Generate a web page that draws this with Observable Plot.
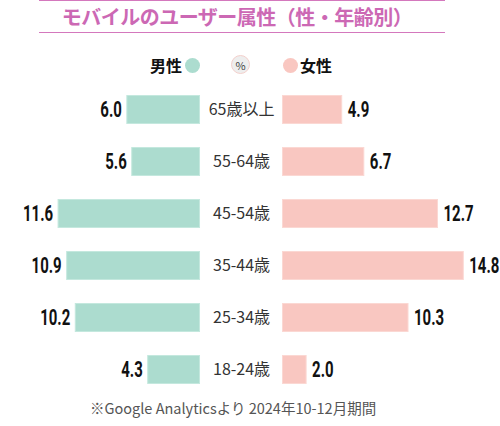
<!DOCTYPE html>
<html><head><meta charset="utf-8">
<script src="https://cdn.jsdelivr.net/npm/d3@7"></script>
<script src="https://cdn.jsdelivr.net/npm/@observablehq/plot@0.6"></script>
<style>
html,body{margin:0;padding:0;background:#fff;}
body{width:500px;height:426px;position:relative;overflow:hidden;font-family:"Noto Sans CJK JP","Noto Sans",sans-serif;}
#title{position:absolute;left:39px;top:0;width:396px;padding-right:10px;height:31px;border-top:1.5px solid #d478bd;border-bottom:1.5px solid #d478bd;text-align:center;line-height:31px;font-size:20px;font-weight:bold;color:#cc68b4;letter-spacing:-0.5px;}
.lg{position:absolute;top:55px;font-size:16px;font-weight:bold;color:#111;line-height:20px;}
.dot{position:absolute;border-radius:50%;}
#chart{position:absolute;left:0;top:82px;}
#cap{position:absolute;left:90px;top:398px;font-size:14.5px;color:#555;line-height:20px;white-space:nowrap;}
</style></head>
<body>
<div id="title">モバイルのユーザー属性（性・年齢別）</div>
<div class="lg" style="left:150px;">男性</div>
<div class="dot" style="left:184.5px;top:57.5px;width:15px;height:15px;background:#acdccf;"></div>
<div class="dot" style="left:231px;top:55px;width:19px;height:19px;background:#eeeeee;border:0.8px solid #f3d0cc;box-sizing:border-box;font-size:11px;line-height:18px;text-align:center;color:#444;">%</div>
<div class="dot" style="left:283px;top:57.5px;width:15px;height:15px;background:#f9c7c1;"></div>
<div class="lg" style="left:300px;">女性</div>
<div id="chart"></div>
<div id="cap">※Google Analyticsより 2024年10-12月期間</div>
<script>
const ages = ["65歳以上","55-64歳","45-54歳","35-44歳","25-34歳","18-24歳"];
const male = [6.0, 5.6, 11.6, 10.9, 10.2, 4.3];
const female = [4.9, 6.7, 12.7, 14.8, 10.3, 2.0];

const GAP = 3.34;
const rows = ages.map((a, i) => ({age: a, male: male[i], female: female[i]}));
const numFont = 'Roboto,"DejaVu Sans",sans-serif';

const chart = Plot.plot({
  width: 500,
  height: 314,
  marginLeft: 0,
  marginRight: 0,
  marginTop: 12,
  marginBottom: 12,
  x: {domain: [-19.63, 21.09], axis: null},
  y: {domain: ages, axis: null, paddingInner: 0.445, paddingOuter: 0},
  marks: [
    Plot.barX(rows, {y: "age", x1: () => -GAP, x2: d => -GAP - d.male, fill: "#acdccf", stroke: "#c4e8de", strokeWidth: 1, inset: 0.5}),
    Plot.barX(rows, {y: "age", x1: () => GAP, x2: d => GAP + d.female, fill: "#f9c7c1", stroke: "#fbd8d3", strokeWidth: 1, inset: 0.5}),
    Plot.text(rows, {y: "age", x: d => -GAP - d.male, text: d => d.male.toFixed(1), textAnchor: "end", dx: -5, fontSize: 22, fontWeight: "bold", fill: "#111", fontFamily: numFont, className: "num"}),
    Plot.text(rows, {y: "age", x: d => GAP + d.female, text: d => d.female.toFixed(1), textAnchor: "start", dx: 5, fontSize: 22, fontWeight: "bold", fill: "#111", fontFamily: numFont, className: "num"}),
    Plot.text(rows, {y: "age", x: () => 0, text: "age", textAnchor: "middle", fontSize: 16, fill: "#333", fontFamily: '"Noto Sans CJK JP",sans-serif'})
  ]
});
// condense the value labels horizontally around their anchor
chart.querySelectorAll(".num text").forEach(t => {
  const tr = t.getAttribute("transform");
  if (tr) {
    t.setAttribute("transform", tr + " scale(0.68,1)");
  } else {
    const x = +t.getAttribute("x") || 0, y = +t.getAttribute("y") || 0;
    t.setAttribute("x", 0); t.setAttribute("y", 0);
    t.setAttribute("transform", `translate(${x},${y}) scale(0.68,1)`);
  }
});
document.getElementById("chart").append(chart);
</script>
</body></html>
